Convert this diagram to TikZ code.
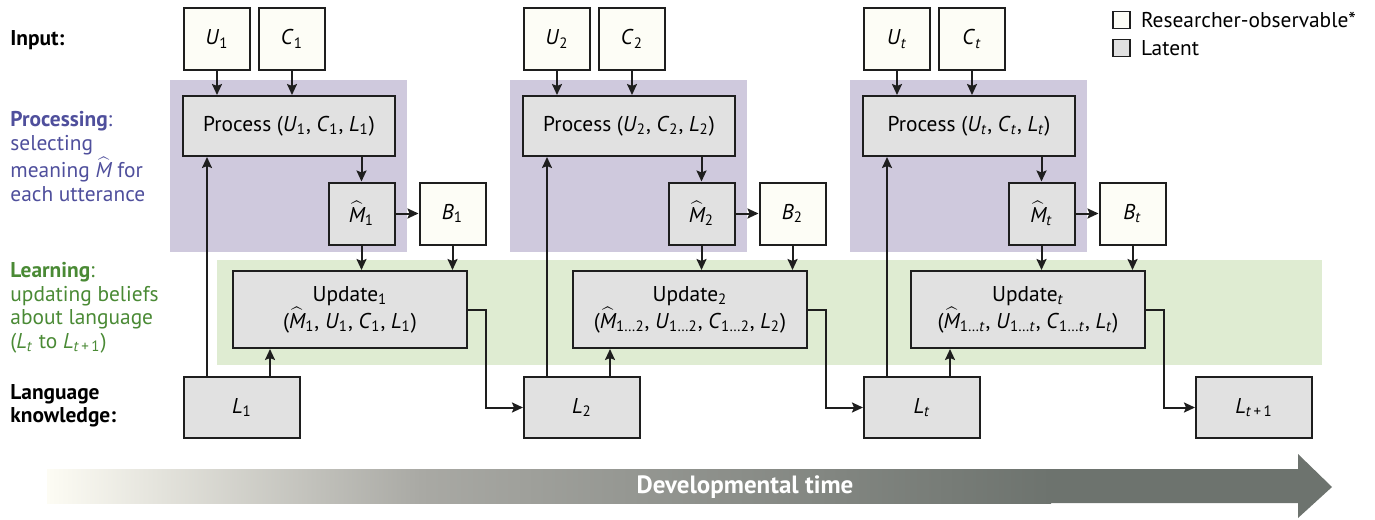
\documentclass[tikz,border=0pt]{standalone}
\usepackage{fontspec}
\setmainfont{PT Sans}
\usepackage{tikz}
\usetikzlibrary{positioning, arrows.meta, calc}
\definecolor{procbg}{HTML}{CFC9DD}
\definecolor{learnbg}{HTML}{DFECD2}
\definecolor{latfill}{HTML}{E1E1E1}
\definecolor{obsfill}{HTML}{FDFDF6}
\definecolor{vline}{HTML}{1E1E1E}
\definecolor{proctext}{HTML}{4F4F9C}
\definecolor{learntext}{HTML}{4A8A35}
\definecolor{arrlight}{HTML}{FDFCF4}
\definecolor{arrmid}{HTML}{A9A9A4}
\definecolor{arrdark}{HTML}{6D736E}

\newcommand{\hatM}{$\widehat{\mbox{\itshape M}}$}
\newcommand{\tvar}[2]{\textit{#1}\textsubscript{#2}}
\newcommand{\mvar}[1]{\hatM\textsubscript{#1}}

\begin{document}
\begin{tikzpicture}[
  x=0.5pt, y=-0.5pt,
  font=\fontsize{10.7}{11.8}\selectfont,
  >={Stealth[length=5.5pt, width=5pt, inset=1pt]},
  obs/.style={draw=vline, line width=1pt, fill=obsfill, minimum width=33pt,
              minimum height=31pt, inner sep=1pt},
  lat/.style={obs, fill=latfill},
  proc/.style={lat, minimum width=106pt, minimum height=30pt},
  upd/.style={lat, minimum width=117pt, minimum height=38.5pt, align=center},
  know/.style={lat, minimum width=58pt, minimum height=30.5pt},
  key/.style={draw=vline, line width=0.6pt, minimum size=8.5pt, inner sep=0pt},
  flow/.style={draw=vline, line width=1pt, ->},
  lbl/.style={anchor=north west, align=left, inner sep=0pt}
]

\useasboundingbox (0,0) rectangle (1375,519);

% ---- Background bands ----
\fill[learnbg] (217,260) rectangle (1322,365);
\fill[procbg] (170,80) rectangle (407,252);
\fill[procbg] (510,80) rectangle (747,252);
\fill[procbg] (850,80) rectangle (1087,252);

% ---- Row labels ----
\node[anchor=west, inner sep=0pt, font=\fontsize{10.7}{11.8}\selectfont\bfseries] (inlbl) at (10,40) {Input:};
\node[lbl, text=proctext] (proclbl) at (10,111)
  {\textbf{Processing}:\\selecting\\meaning \hatM{} for\\each utterance};
\node[lbl, text=learntext] (learnlbl) at (10,262)
  {\textbf{Learning}:\\updating beliefs\\about language\\(\tvar{L}{\textit{t}} to \tvar{L}{\textit{t}\,+\,1})};
\node[lbl, font=\fontsize{10.7}{11.8}\selectfont\bfseries] (knowlbl) at (10,384)
  {Language\\knowledge:};

% ---- Step 1 ----
\node[obs]  (u1)  at (217,39)      {\tvar{U}{1}};
\node[obs]  (c1)  at (292,39)      {\tvar{C}{1}};
\node[proc] (p1)  at (289,126)     {Process (\tvar{U}{1}, \tvar{C}{1}, \tvar{L}{1})};
\node[lat]  (m1)  at (361.5,213.5) {\mvar{1}};
\node[obs]  (b1)  at (452.5,213.5) {\tvar{B}{1}};
\node[upd]  (up1) at (350,309.5)   {Update\textsubscript{1}\\(\mvar{1}, \tvar{U}{1}, \tvar{C}{1}, \tvar{L}{1})};
\node[know] (l1)  at (242,407.5)   {\tvar{L}{1}};

% ---- Step 2 ----
\node[obs]  (u2)  at (557,39)      {\tvar{U}{2}};
\node[obs]  (c2)  at (632,39)      {\tvar{C}{2}};
\node[proc] (p2)  at (629,126)     {Process (\tvar{U}{2}, \tvar{C}{2}, \tvar{L}{2})};
\node[lat]  (m2)  at (701.5,213.5) {\mvar{2}};
\node[obs]  (b2)  at (792.5,213.5) {\tvar{B}{2}};
\node[upd]  (up2) at (690,309.5)   {Update\textsubscript{2}\\(\mvar{1\ldots2}, \tvar{U}{1\ldots2}, \tvar{C}{1\ldots2}, \tvar{L}{2})};
\node[know] (l2)  at (582,407.5)   {\tvar{L}{2}};

% ---- Step t ----
\node[obs]  (ut)  at (897,39)      {\tvar{U}{\textit{t}}};
\node[obs]  (ct)  at (972,39)      {\tvar{C}{\textit{t}}};
\node[proc] (pt)  at (969,126)     {Process (\tvar{U}{\textit{t}}, \tvar{C}{\textit{t}}, \tvar{L}{\textit{t}})};
\node[lat]  (mt)  at (1041.5,213.5) {\mvar{\textit{t}}};
\node[obs]  (bt)  at (1132.5,213.5) {\tvar{B}{\textit{t}}};
\node[upd]  (upt) at (1028,309.5)  {Update\textsubscript{\textit{t}}\\(\mvar{1\ldots\textit{t}}, \tvar{U}{1\ldots\textit{t}}, \tvar{C}{1\ldots\textit{t}}, \tvar{L}{\textit{t}})};
\node[know] (lt)  at (922,407.5)   {\tvar{L}{\textit{t}}};
\node[know] (ln)  at (1254,407.5)  {\tvar{L}{\textit{t}\,+\,1}};

% ---- Arrows, step 1 ----
\draw[flow] (u1) -- (u1 |- p1.north);
\draw[flow] (c1) -- (c1 |- p1.north);
\draw[flow] (m1 |- p1.south) -- (m1);
\draw[flow] (m1) -- (b1);
\draw[flow] (m1) -- (m1 |- up1.north);
\draw[flow] (b1) -- (b1 |- up1.north);
\coordinate (l1p) at ($(l1.north west)+(24,0)$);
\coordinate (l1u) at ($(l1.north west)+(87,0)$);
\draw[flow] (l1p) -- (l1p |- p1.south);
\draw[flow] (l1u) -- (l1u |- up1.south);
\draw[flow] (up1.east) -- ++(18,0) |- (l2);

% ---- Arrows, step 2 ----
\draw[flow] (u2) -- (u2 |- p2.north);
\draw[flow] (c2) -- (c2 |- p2.north);
\draw[flow] (m2 |- p2.south) -- (m2);
\draw[flow] (m2) -- (b2);
\draw[flow] (m2) -- (m2 |- up2.north);
\draw[flow] (b2) -- (b2 |- up2.north);
\coordinate (l2p) at ($(l2.north west)+(24,0)$);
\coordinate (l2u) at ($(l2.north west)+(87,0)$);
\draw[flow] (l2p) -- (l2p |- p2.south);
\draw[flow] (l2u) -- (l2u |- up2.south);
\draw[flow] (up2.east) -- ++(18,0) |- (lt);

% ---- Arrows, step t ----
\draw[flow] (ut) -- (ut |- pt.north);
\draw[flow] (ct) -- (ct |- pt.north);
\draw[flow] (mt |- pt.south) -- (mt);
\draw[flow] (mt) -- (bt);
\draw[flow] (mt) -- (mt |- upt.north);
\draw[flow] (bt) -- (bt |- upt.north);
\coordinate (ltp) at ($(lt.north west)+(24,0)$);
\coordinate (ltu) at ($(lt.north west)+(87,0)$);
\draw[flow] (ltp) -- (ltp |- pt.south);
\draw[flow] (ltu) -- (ltu |- upt.south);
\draw[flow] (upt.east) -- ++(18,0) |- (ln);

% ---- Legend ----
\node[key, fill=obsfill] (kobs) at (1121.5,20) {};
\node[right=5pt of kobs, inner sep=0pt] (kobstxt) {Researcher-observable*};
\node[key, fill=latfill] (klat) at (1121.5,48) {};
\node[right=5pt of klat, inner sep=0pt] (klattxt) {Latent};

% ---- Developmental time ----
\shade[left color=arrlight, right color=arrmid] (47,469) rectangle (421,503);
\shade[left color=arrmid, right color=arrdark] (420,469) rectangle (1051,503);
\fill[arrdark] (1050,469) -- (1298,469) -- (1298,454) -- (1332,487)
  -- (1298,518) -- (1298,503) -- (1050,503) -- cycle;
\node[text=white, font=\fontsize{12.5}{14}\selectfont\bfseries] (devtime) at (745,487) {Developmental time};

\end{tikzpicture}
\end{document}
